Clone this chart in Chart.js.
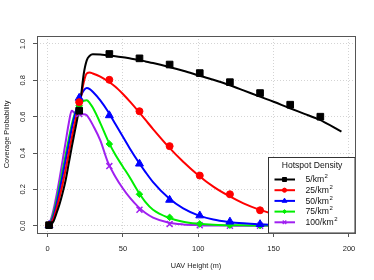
<!DOCTYPE html>
<html>
<head>
<meta charset="utf-8">
<script src="https://cdn.jsdelivr.net/npm/chart.js"></script>
<style>
html, body { margin:0; padding:0; background:#fff; }
canvas { display:block; }
</style>
</head>
<body>
<canvas id="myChart" width="374" height="280"></canvas>
<script>
const seriesNames = ["5", "25", "50", "75", "100"];
const seriesColors = ["#000000", "#ff0000", "#0000ff", "#00ee00", "#a020f0"];
const markerStyles = ["rect", "circle", "triangle", "rectRot", "crossRot"];
const markerSizes = [4.7, 3.5, 4.6, 3.3, 4.2];

const xTicks = [0, 50, 100, 150, 200];
const yTicks = [0, 0.2, 0.4, 0.6, 0.8, 1.0];

// simulated points
const markerHeights = [1, 21, 41, 61, 81, 101, 121, 141, 161, 181];
const mark5   = [0.003, 0.633, 0.945, 0.921, 0.887, 0.840, 0.790, 0.730, 0.666, 0.600];
const mark25  = [0.003, 0.680, 0.803, 0.630, 0.438, 0.276, 0.173, 0.085, 0.045, 0.022];
const mark50  = [0.003, 0.703, 0.607, 0.341, 0.142, 0.056, 0.022, 0.008, 0.003, 0.001];
const mark75  = [0.003, 0.660, 0.450, 0.173, 0.046, 0.010, 0.003, 0.001, 0, 0];
const mark100 = [0.003, 0.615, 0.328, 0.088, 0.009, 0.002, 0, 0, 0, 0];

// analytical curves
const curveHeights = [0,2,4,6,8,10,12,14,16,18,20,22,24,26,28,30,35,40,45,50,55,60,65,70,80,90,100,110,120,130,140,150,160,170,180,195];
const curve5   = [0,0.005,0.025,0.07,0.12,0.18,0.25,0.34,0.43,0.515,0.6,0.70,0.835,0.91,0.935,0.943,0.942,0.937,0.933,0.927,0.92,0.913,0.904,0.895,0.875,0.853,0.828,0.803,0.776,0.745,0.713,0.682,0.649,0.617,0.585,0.518];
const curve25  = [0,0.01,0.04,0.095,0.16,0.23,0.31,0.395,0.48,0.56,0.635,0.70,0.79,0.838,0.843,0.838,0.82,0.795,0.765,0.725,0.68,0.632,0.582,0.532,0.437,0.352,0.278,0.215,0.165,0.123,0.09,0.065,0.046,0.032,0.022,0.012];
const curve50  = [0,0.015,0.055,0.12,0.195,0.275,0.36,0.445,0.53,0.605,0.665,0.712,0.745,0.758,0.752,0.737,0.69,0.63,0.56,0.49,0.42,0.355,0.295,0.24,0.155,0.095,0.057,0.034,0.021,0.013,0.008,0.005,0.003,0.002,0.001,0.001];
const curve75  = [0,0.02,0.07,0.14,0.22,0.305,0.39,0.475,0.555,0.615,0.65,0.672,0.688,0.69,0.675,0.65,0.565,0.47,0.39,0.325,0.26,0.19,0.13,0.088,0.045,0.022,0.011,0.005,0.003,0.002,0.001,0.001,0,0,0,0];
const curve100 = [0,0.03,0.09,0.17,0.26,0.36,0.46,0.56,0.632,0.62,0.612,0.613,0.614,0.608,0.585,0.555,0.47,0.35,0.27,0.205,0.15,0.105,0.07,0.045,0.018,0.007,0.003,0.001,0.001,0,0,0,0,0,0,0];

const markSets = [mark5, mark25, mark50, mark75, mark100];
const curveSets = [curve5, curve25, curve50, curve75, curve100];

const FONT = "'Liberation Sans', Arial, sans-serif";

const datasets = [];
markSets.forEach((m, i) => {
  datasets.push({
    type: "scatter",
    data: markerHeights.map((h, j) => ({x: h, y: m[j]})),
    pointStyle: markerStyles[i],
    pointRadius: markerSizes[i],
    backgroundColor: seriesColors[i],
    borderColor: seriesColors[i],
    borderWidth: i == 4 ? 1.5 : 1
  });
});
curveSets.forEach((c, i) => {
  datasets.push({
    type: "line",
    data: curveHeights.map((h, j) => ({x: h, y: c[j]})),
    borderColor: seriesColors[i],
    borderWidth: 2,
    pointRadius: 0,
    fill: false,
    cubicInterpolationMode: "monotone"
  });
});

function drawMark(ctx, i, x, y, scale) {
  ctx.fillStyle = seriesColors[i];
  ctx.strokeStyle = seriesColors[i];
  const opts = {pointStyle: markerStyles[i], radius: markerSizes[i] * scale, rotation: 0, borderWidth: i == 4 ? 1.3 : 1};
  ctx.lineWidth = opts.borderWidth;
  Chart.helpers.drawPoint(ctx, opts, x, y);
}

const decorPlugin = {
  id: "decor",
  afterDraw(chart) {
    const ctx = chart.ctx;
    const a = chart.chartArea;
    const ys = chart.scales.y;
    ctx.save();
    // y tick labels (rotated)
    ctx.fillStyle = "#222";
    ctx.font = "7.5px " + FONT;
    ctx.textAlign = "center";
    ctx.textBaseline = "middle";
    yTicks.forEach(v => {
      const py = ys.getPixelForValue(v);
      ctx.save();
      ctx.translate(23, py);
      ctx.rotate(-Math.PI / 2);
      ctx.fillText(v.toFixed(1), 0, 0);
      ctx.restore();
    });
    // axis titles
    ctx.font = "7.3px " + FONT;
    ctx.fillText("UAV Height (m)", (a.left + a.right) / 2, 266);
    ctx.save();
    ctx.translate(7, (a.top + a.bottom) / 2);
    ctx.rotate(-Math.PI / 2);
    ctx.fillText("Coverage Probability", 0, 0);
    ctx.restore();

    // legend
    const lx = 268.5, ly = 157.5, lr = a.right, lb = a.bottom;
    ctx.fillStyle = "#fff";
    ctx.fillRect(lx, ly, lr - lx, lb - ly);
    ctx.strokeStyle = "#333";
    ctx.lineWidth = 1;
    ctx.strokeRect(lx, ly, lr - lx, lb - ly);
    ctx.fillStyle = "#111";
    ctx.font = "8.6px " + FONT;
    ctx.textAlign = "center";
    ctx.fillText("Hotspot Density", 312, 165.5);
    seriesNames.forEach((n, i) => {
      const ry = 179.5 + i * 10.7;
      ctx.strokeStyle = seriesColors[i];
      ctx.lineWidth = 2;
      ctx.beginPath();
      ctx.moveTo(274.5, ry);
      ctx.lineTo(295, ry);
      ctx.stroke();
      drawMark(ctx, i, 284.5, ry, 0.6);
      ctx.fillStyle = "#111";
      ctx.font = "8.6px " + FONT;
      ctx.textAlign = "left";
      const t = n + "/km";
      ctx.fillText(t, 305.5, ry + 0.5);
      const w = ctx.measureText(t).width;
      ctx.font = "6px " + FONT;
      ctx.fillText("2", 305.5 + w + 0.5, ry - 3);
    });

    // plot box
    ctx.strokeStyle = "#555";
    ctx.lineWidth = 1;
    ctx.strokeRect(a.left + 0.5, a.top + 0.5, a.right - a.left, a.bottom - a.top);
    ctx.restore();
  }
};

new Chart("myChart", {
  data: {datasets: datasets},
  options: {
    responsive: false,
    animation: false,
    devicePixelRatio: 1,
    layout: {padding: {left: 0, right: 19, top: 36, bottom: 0}},
    plugins: {legend: {display: false}, tooltip: {enabled: false}},
    scales: {
      x: {
        type: "linear",
        min: -7,
        max: 204,
        afterBuildTicks: s => { s.ticks = xTicks.map(v => ({value: v})); },
        afterFit: s => { s.height = 47; },
        ticks: {color: "#222", font: {family: FONT, size: 7.5}, padding: 7, maxRotation: 0},
        grid: {color: "#d4d4d4", tickColor: "#555", tickLength: 4, tickBorderDash: []},
        border: {display: false, dash: [1, 2]}
      },
      y: {
        type: "linear",
        min: -0.04,
        max: 1.044,
        afterBuildTicks: s => { s.ticks = yTicks.map(v => ({value: v})); },
        afterFit: s => { s.width = 37; },
        ticks: {display: false},
        grid: {color: "#d4d4d4", tickColor: "#555", tickLength: 4, tickBorderDash: []},
        border: {display: false, dash: [1, 2]}
      }
    }
  },
  plugins: [decorPlugin]
});
</script>
</body>
</html>
